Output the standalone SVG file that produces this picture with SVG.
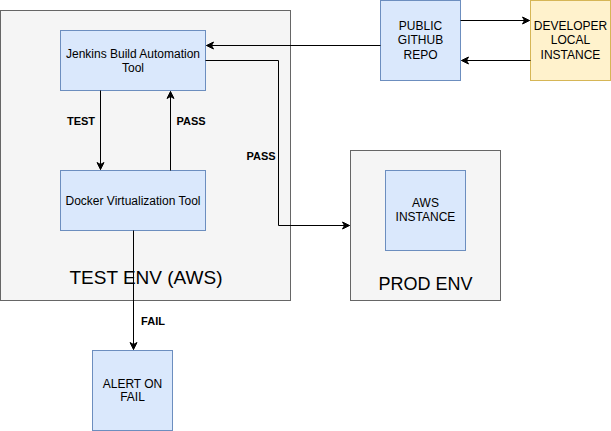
<svg xmlns="http://www.w3.org/2000/svg" width="611" height="431" viewBox="0 0 611 431">
<defs>
<marker id="arr" markerWidth="10" markerHeight="10" refX="8" refY="5" orient="auto" markerUnits="userSpaceOnUse">
<path d="M1,1.5 L8,5 L1,8.5 L3,5 Z" fill="#000" stroke="#000" stroke-width="1"/>
</marker>
<style>
.env{fill:#f5f5f5;stroke:#666666;stroke-width:1}
.blue{fill:#dae8fc;stroke:#6c8ebf;stroke-width:1}
.yel{fill:#fff2cc;stroke:#d6b656;stroke-width:1}
text{font-family:"Liberation Sans",Arial,sans-serif;fill:#000;text-anchor:middle}
.t{font-size:12px}
.lbl{font-size:11px;font-weight:bold}
.big{font-size:19px}
.mid{font-size:18px}
.c{fill:none;stroke:#000;stroke-width:1;marker-end:url(#arr)}
</style>
</defs>
<rect width="611" height="431" fill="#fff"/>
<g id="test-env">
<rect class="env" x="0.5" y="10.5" width="290" height="290"/>
<text class="big" x="146" y="284">TEST ENV (AWS)</text>
</g>
<g id="prod-env">
<rect class="env" x="350.5" y="150.5" width="150" height="150"/>
<text class="mid" x="425.5" y="289.5">PROD ENV</text>
</g>
<g id="jenkins">
<rect class="blue" x="60.5" y="30.5" width="145" height="60"/>
<text class="t" x="133" y="58">Jenkins Build Automation</text>
<text class="t" x="133" y="72">Tool</text>
</g>
<g id="docker">
<rect class="blue" x="60.5" y="170.5" width="145" height="60"/>
<text class="t" x="133" y="205">Docker Virtualization Tool</text>
</g>
<g id="github">
<rect class="blue" x="380.5" y="0.5" width="80" height="80"/>
<text class="t" x="420.5" y="30">PUBLIC</text>
<text class="t" x="420.5" y="44">GITHUB</text>
<text class="t" x="420.5" y="59">REPO</text>
</g>
<g id="developer">
<rect class="yel" x="530.5" y="0.5" width="80" height="80"/>
<text class="t" x="570.5" y="30">DEVELOPER</text>
<text class="t" x="570.5" y="44">LOCAL</text>
<text class="t" x="570.5" y="59">INSTANCE</text>
</g>
<g id="aws-instance">
<rect class="blue" x="385.5" y="170.5" width="80" height="80"/>
<text class="t" x="425.5" y="207">AWS</text>
<text class="t" x="425.5" y="221">INSTANCE</text>
</g>
<g id="alert">
<rect class="blue" x="92.5" y="350.5" width="80" height="80"/>
<text class="t" x="132.5" y="388">ALERT ON</text>
<text class="t" x="132.5" y="401">FAIL</text>
</g>
<g id="connectors">
<path class="c" d="M100.5,90.5 V169.5"/>
<path class="c" d="M170.5,170.5 V91.5"/>
<path class="c" d="M380.5,45.5 H206.5"/>
<path class="c" d="M460.5,20.5 H529.5"/>
<path class="c" d="M530.5,60.5 H461.5"/>
<path class="c" d="M205.5,60.5 H278.5 V225.5 H349.5"/>
<path class="c" d="M133.5,230.5 V349.5"/>
<text class="lbl" x="81" y="125">TEST</text>
<text class="lbl" x="191" y="125">PASS</text>
<text class="lbl" x="261" y="160">PASS</text>
<text class="lbl" x="153" y="325">FAIL</text>
</g>
</svg>
